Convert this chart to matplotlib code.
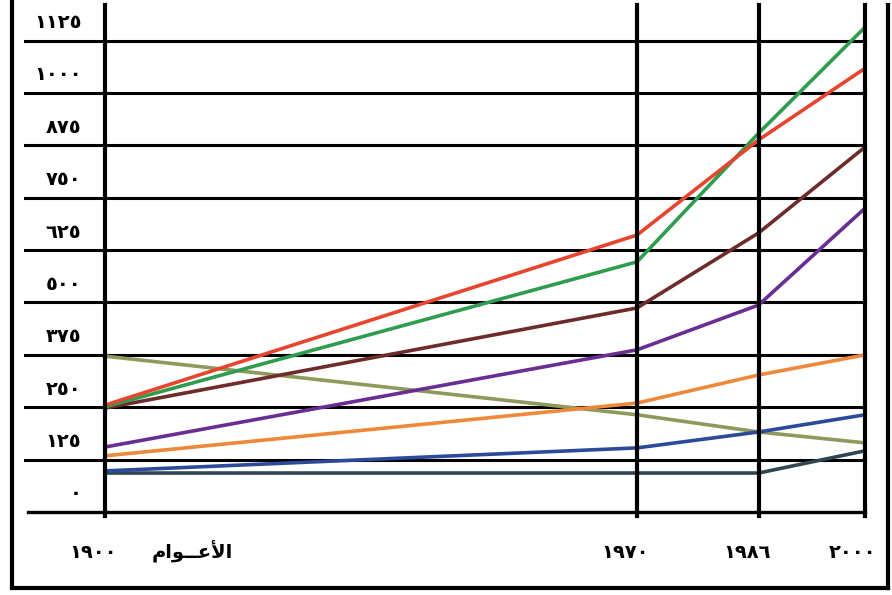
import matplotlib.pyplot as plt
from matplotlib.lines import Line2D
from matplotlib.transforms import ScaledTranslation

# data
years = [1900, 1970, 1986, 2000]
year_labels = ["١٩٠٠", "١٩٧٠", "١٩٨٦", "٢٠٠٠"]
value_ticks = [0, 125, 250, 375, 500, 625, 750, 875, 1000, 1125]
value_labels = ["٠", "١٢٥", "٢٥٠", "٣٧٥", "٥٠٠", "٦٢٥", "٧٥٠", "٨٧٥", "١٠٠٠", "١١٢٥"]
# "الأعوام" written in shaped presentation forms, visual order (matplotlib does no Arabic shaping)
years_title = "\uFEE1\uFE8D\uFEEE\u0640\u0640\uFECB\uFEF7\uFE8D"

red = [207, 613, 840, 1011]
green = [203, 549, 856, 1109]
brown = [200, 439, 618, 823]
purple = [107, 339, 446, 677]
orange = [86, 212, 279, 327]
olive = [324, 184, 143, 117]
blue = [50, 105, 143, 184]
slate = [45, 45, 45, 98]


def main():
    plt.rcParams["font.family"] = ["DejaVu Sans"]
    plt.rcParams["font.weight"] = "bold"

    fig = plt.figure(figsize=(8.92, 5.95), dpi=100)
    fig.patch.set_facecolor("white")
    ax = fig.add_axes([105 / 892, 83 / 595, 760 / 892, 507 / 595])

    series = [
        (olive, "#8c9a5c"),
        (slate, "#2f4653"),
        (blue, "#2b4a9b"),
        (orange, "#f0883a"),
        (purple, "#6a2d92"),
        (brown, "#6e2b2b"),
        (green, "#2f9c50"),
        (red, "#e8452f"),
    ]
    for vals, color in series:
        ax.plot(years, vals, color=color, linewidth=2.6, solid_capstyle="butt", zorder=3)

    ax.set_xlim(1900, 2000)
    ax.set_ylim(-48, 1162)

    # horizontal rules sit between the value labels
    for k in range(9):
        ax.axhline(77 + 125 * k, xmin=-0.105, xmax=1, color="black", linewidth=2.2,
                   clip_on=False, zorder=2)
    ax.axhline(-48, xmin=-0.101, xmax=1, color="black", linewidth=2.4, clip_on=False, zorder=2)
    for yr in years:
        ax.axvline(yr, ymin=-0.008, ymax=1, color="black", linewidth=3.0, clip_on=False, zorder=4)

    for s in ax.spines.values():
        s.set_visible(False)

    ax.set_yticks(value_ticks, value_labels)
    ax.set_xticks(years, year_labels)
    ax.tick_params(axis="both", length=0, labelsize=14)
    ax.tick_params(axis="y", pad=17)
    ax.tick_params(axis="x", pad=22)
    shift = ScaledTranslation(-12 / 100, 0, fig.dpi_scale_trans)
    for lab in ax.get_xticklabels():
        lab.set_transform(lab.get_transform() + shift)

    ax.text(192 / 892, 552 / 595 * -1 + 1, years_title, transform=fig.transFigure,
            ha="center", va="center", fontsize=14, fontweight="bold")

    # outer frame of the figure
    fig.add_artist(Line2D([12 / 892, 12 / 892], [7 / 595, 1], transform=fig.transFigure,
                          color="black", linewidth=3))
    fig.add_artist(Line2D([888 / 892, 888 / 892], [7 / 595, 590 / 595], transform=fig.transFigure,
                          color="black", linewidth=3))
    fig.add_artist(Line2D([12 / 892, 888 / 892], [7 / 595, 7 / 595], transform=fig.transFigure,
                          color="black", linewidth=3))

    fig.savefig("out.png", dpi=100, facecolor="white")


if __name__ == "__main__":
    main()
